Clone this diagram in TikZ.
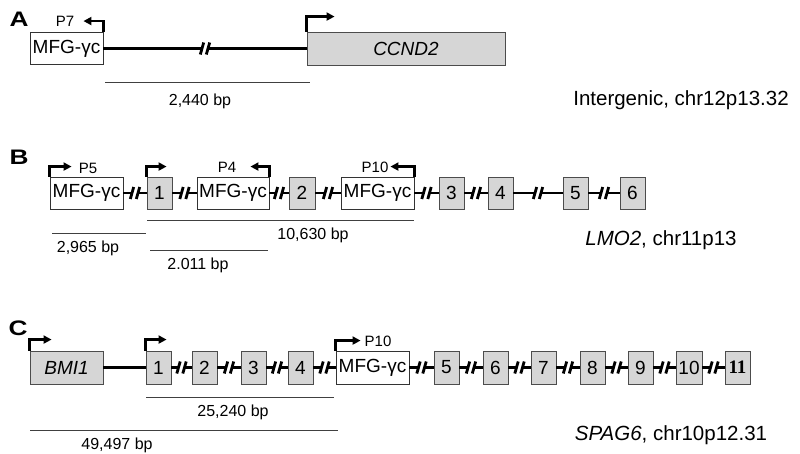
\documentclass[tikz,border=0pt]{standalone}
\usepackage{fontspec}
\setmainfont{Liberation Sans}
\newfontfamily\serifbf{Liberation Serif}
\usetikzlibrary{arrows.meta}
\newcommand\fsz[1]{\fontsize{#1}{#1}\selectfont}
\definecolor{exgray}{HTML}{D6D6D6}
\tikzset{
  brk/.pic={
    \fill[white] (-3,-2.8) rectangle (3,2.8);
    \draw[line width=2.8pt, black] (-4.7,6) -- (-1.3,-6) (1.3,6) -- (4.7,-6);
  }
}
\newcommand\lnk[2]{\draw[bb] (#1) -- (#2) coordinate[pos=.5] (m-#1-#2); \pic at (m-#1-#2) {brk};}
\begin{document}
\begin{tikzpicture}[x=1pt,y=-1pt,
  mfg/.style={draw=black!80, line width=0.9pt, fill=white, minimum width=73pt, minimum height=32pt, inner sep=0pt, font=\fsz{19}},
  exon/.style={draw=black!70, line width=0.9pt, fill=exgray, minimum width=25pt, minimum height=32pt, inner sep=0pt, font=\fsz{19}},
  gene/.style={exon, minimum width=73pt, font=\fsz{19}\itshape},
  bb/.style={line width=2.4pt, black},
  prom/.style={line width=2.2pt, black, -{Triangle[length=8pt,width=8pt]}},
  plab/.style={font=\fsz{15}, inner sep=0pt},
  sc/.style={line width=0.9pt, black!75},
  bp/.style={font=\fsz{16}, inner sep=0pt},
  chrom/.style={font=\fsz{20.5}, inner sep=0pt},
  panel/.style={font=\fsz{21}\bfseries, inner sep=0pt}
]
\useasboundingbox (0,0) rectangle (800,453);

% ---------------- Panel A ----------------
\node[panel] (la) at (19,19.5) {\scalebox{1.25}[1]{A}};
\node[mfg] (mfgA) at (66.5,48.5) {MFG-γc};
\node[gene, minimum width=198pt, minimum height=33pt] (ccnd2) at (406,48.5) {CCND2};
\lnk{mfgA}{ccnd2}
\draw[prom] (mfgA.north east) -- ++(0,-11) -- ++(-20,0);
\node[plab] (p7) at (65,21) {P7};
\draw[prom] (ccnd2.north west) -- ++(0,-15) -- ++(28,0);
\draw[sc] (105,82) coordinate (sa1) -- (310,82) coordinate (sa2);
\node[bp] (bpA) at (200,101) {2,440 bp};
\node[chrom] (chrA) at (681,100) {Intergenic, chr12p13.32};

% ---------------- Panel B ----------------
\node[panel] (lb) at (19,157) {\scalebox{1.25}[1]{B}};
\node[mfg] (b1) at (86.5,193) {MFG-γc};
\node[exon] (e1) at (159.5,193) {1};
\node[mfg, minimum width=72pt] (b2) at (233,193) {MFG-γc};
\node[exon, minimum width=26pt] (e2) at (302,193) {2};
\node[mfg] (b3) at (377.5,193) {MFG-γc};
\node[exon] (e3) at (451.5,193) {3};
\node[exon] (e4) at (500.5,193) {4};
\node[exon] (e5) at (575.5,193) {5};
\node[exon] (e6) at (632.5,193) {6};
\lnk{b1}{e1}
\lnk{e1}{b2}
\lnk{b2}{e2}
\lnk{e2}{b3}
\lnk{b3}{e3}
\lnk{e3}{e4}
\lnk{e4}{e5}
\lnk{e5}{e6}
\draw[prom] (b1.north west) -- ++(0,-10) -- ++(22,0);
\node[plab] (p5) at (88,168) {P5};
\draw[prom] (e1.north west) -- ++(0,-10) -- ++(20,0);
\draw[prom] (b2.north east) -- ++(0,-10) -- ++(-19,0);
\node[plab] (p4) at (227,167) {P4};
\draw[prom] (b3.north east) -- ++(0,-10) -- ++(-24,0);
\node[plab] (p10b) at (375,167) {P10};
\draw[sc] (52,233) -- (146,233);
\node[bp] (bpB1) at (88,248) {2,965 bp};
\draw[sc] (147,220) -- (414,220);
\node[bp] (bpB2) at (313,235) {10,630 bp};
\draw[sc] (150,250) -- (268,250);
\node[bp] (bpB3) at (198,265) {2.011 bp};
\node[chrom] (chrB) at (661,240) {\itshape LMO2\upshape, chr11p13};

% ---------------- Panel C ----------------
\node[panel] (lc) at (18,328) {\scalebox{1.25}[1]{C}};
\node[gene, minimum height=33pt] (bmi) at (66.5,367.5) {BMI1};
\node[exon, minimum height=33pt] (c1) at (158.5,367.5) {1};
\node[exon, minimum height=33pt] (c2) at (204.5,367.5) {2};
\node[exon, minimum height=33pt] (c3) at (253.5,367.5) {3};
\node[exon, minimum height=33pt] (c4) at (300.5,367.5) {4};
\node[mfg, minimum height=33pt] (mc) at (372.5,367.5) {MFG-γc};
\node[exon, minimum height=33pt] (c5) at (446.5,367.5) {5};
\node[exon, minimum height=33pt] (c6) at (495.5,367.5) {6};
\node[exon, minimum height=33pt] (c7) at (543.5,367.5) {7};
\node[exon, minimum height=33pt] (c8) at (592.5,367.5) {8};
\node[exon, minimum height=33pt] (c9) at (640.5,367.5) {9};
\node[exon, minimum height=33pt, minimum width=26pt] (c10) at (689,367.5) {10};
\node[exon, minimum height=33pt, font=\fsz{19}\serifbf\bfseries] (c11) at (737.5,367.5) {11};
\draw[bb] (bmi) -- (c1);
\lnk{c1}{c2}
\lnk{c2}{c3}
\lnk{c3}{c4}
\lnk{c4}{mc}
\lnk{mc}{c5}
\lnk{c5}{c6}
\lnk{c6}{c7}
\lnk{c7}{c8}
\lnk{c8}{c9}
\lnk{c9}{c10}
\lnk{c10}{c11}
\draw[prom] (bmi.north west) -- ++(0,-11) -- ++(22,0);
\draw[prom] (c1.north west) -- ++(0,-11) -- ++(21,0);
\draw[prom] (mc.north west) -- ++(0,-10) -- ++(25,0);
\node[plab] (p10c) at (378,341) {P10};
\draw[sc] (146,397) -- (334,397);
\node[bp] (bpC1) at (233,412) {25,240 bp};
\draw[sc] (30,430) -- (338,430);
\node[bp] (bpC2) at (117,445) {49,497 bp};
\node[chrom] (chrC) at (671,435) {\itshape SPAG6\upshape, chr10p12.31};
\end{tikzpicture}
\end{document}
